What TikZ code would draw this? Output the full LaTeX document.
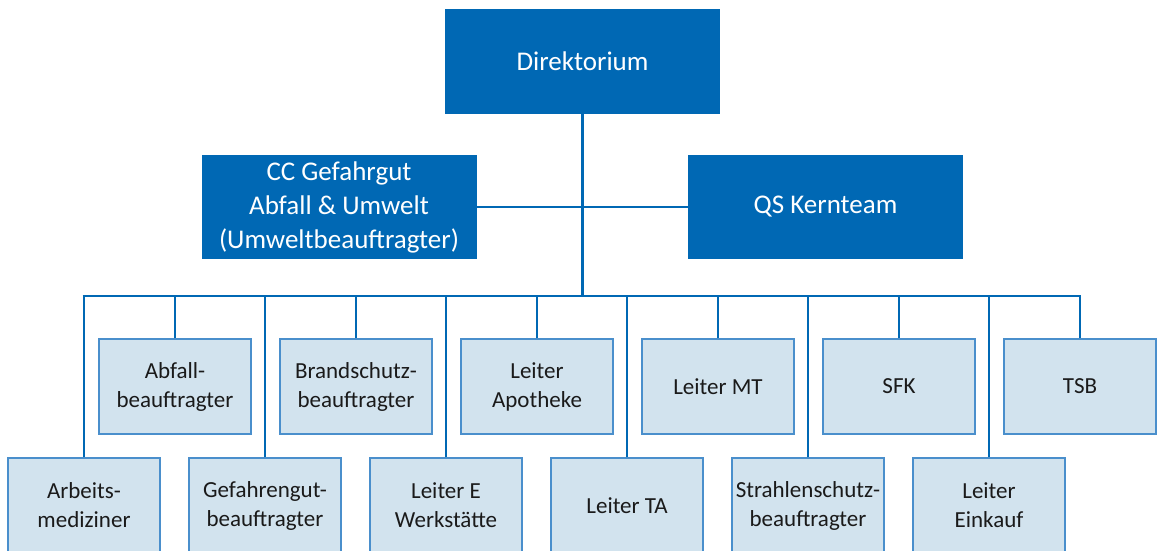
\documentclass[tikz,border=0pt]{standalone}
\usepackage{fontspec}
\setmainfont{Carlito}
\definecolor{dblue}{HTML}{0068B4}
\definecolor{lfill}{HTML}{D2E3EE}
\definecolor{lborder}{HTML}{4A8FCC}
\definecolor{txt}{HTML}{1A1A1A}
\tikzset{
  bluebox/.style={fill=dblue, draw=none, text=white, minimum width=275pt, minimum height=104pt,
    inner sep=0pt, align=center, font=\fontsize{27}{34}\selectfont},
  lightbox/.style={fill=lfill, draw=lborder, line width=1.5pt, text=txt, minimum width=152pt,
    minimum height=95pt, inner sep=0pt, align=center, font=\fontsize{23}{29}\selectfont},
  conn/.style={draw=dblue, line width=2.9pt}
}
\begin{document}
\begin{tikzpicture}[x=1pt,y=-1pt]
\useasboundingbox (0,0) rectangle (1162,551);
% top level
\node[bluebox] (dir) at (582.5,61.5) {Direktorium};
\node[bluebox] (cc) at (339,207) {CC Gefahrgut\\Abfall \& Umwelt\\(Umweltbeauftragter)};
\node[bluebox] (qs) at (825.5,207) {QS Kernteam};
% bus
\coordinate (busL) at (84,296);
\coordinate (busR) at (1080,296);
% upper row
\node[lightbox] (u1) at (175,386.5) {Abfall-\\beauftragter};
\node[lightbox] (u2) at (356,386.5) {Brandschutz-\\beauftragter};
\node[lightbox] (u3) at (537,386.5) {Leiter\\Apotheke};
\node[lightbox] (u4) at (718,386.5) {Leiter MT};
\node[lightbox] (u5) at (899,386.5) {SFK};
\node[lightbox] (u6) at (1080,386.5) {TSB};
% lower row
\node[lightbox] (l1) at (84,505.5) {Arbeits-\\mediziner};
\node[lightbox] (l2) at (265,505.5) {Gefahrengut-\\beauftragter};
\node[lightbox] (l3) at (446,505.5) {Leiter E\\Werkstätte};
\node[lightbox] (l4) at (627,505.5) {Leiter TA};
\node[lightbox] (l5) at (808,505.5) {Strahlenschutz-\\beauftragter};
\node[lightbox] (l6) at (989,505.5) {Leiter\\Einkauf};
% connectors
\draw[conn] (cc.east) -- (qs.west);
\draw[conn] (dir.south) -- (dir.south |- busL);
\draw[conn] ([xshift=-1.45pt]busL) -- ([xshift=1.45pt]busR);
\foreach \n in {u1,u2,u3,u4,u5,u6,l1,l2,l3,l4,l5,l6}
  \draw[conn] (\n.north) -- (\n.north |- busL);
\end{tikzpicture}
\end{document}
